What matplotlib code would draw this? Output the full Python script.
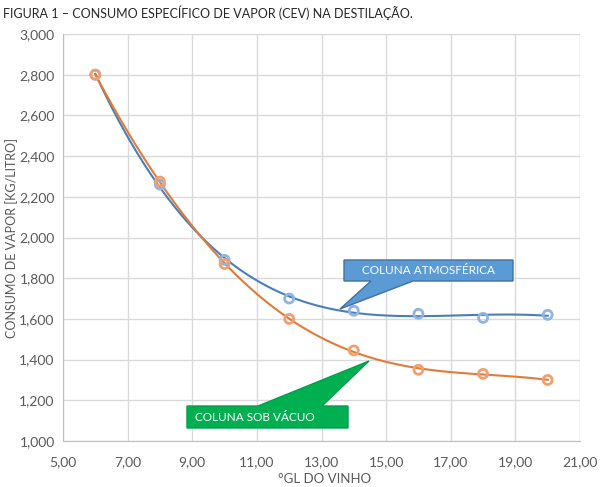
import numpy as np
import matplotlib
matplotlib.use('Agg')
import matplotlib.pyplot as plt
from matplotlib.patches import Polygon
from matplotlib.ticker import FuncFormatter, MultipleLocator

plt.rcParams['font.family'] = ['Lato', 'DejaVu Sans']

gl_vinho = [6, 8, 10, 12, 14, 16, 18, 20]
cev_atmos = [2800, 2260, 1890, 1700, 1640, 1625, 1605, 1620]
cev_vacuo = [2800, 2275, 1870, 1600, 1445, 1350, 1330, 1300]

W, H = 600, 487
fig = plt.figure(figsize=(6, 4.87), dpi=100)
ax = fig.add_axes([63 / W, 1 - 441 / H, (580 - 63) / W, (441 - 34) / H])

grey = '#595959'
blue_mk = '#8FB4E0'
orange_mk = '#F0A070'

# trendlines (polynomial fits like Excel)
xs = np.linspace(6, 20, 300)
p_a = np.polyfit(gl_vinho, cev_atmos, 4)
p_v = np.polyfit(gl_vinho, cev_vacuo, 4)
ax.plot(xs, np.polyval(p_a, xs), color='#4A7EBB', lw=1.5, zorder=3)
ax.plot(xs, np.polyval(p_v, xs), color='#E07B39', lw=1.5, zorder=3)

ax.scatter(gl_vinho, cev_atmos, s=42, facecolors='none', edgecolors=blue_mk, linewidths=2, zorder=4)
ax.scatter(gl_vinho, cev_vacuo, s=42, facecolors='none', edgecolors=orange_mk, linewidths=2, zorder=4)

ax.set_xlim(5, 21)
ax.set_ylim(1000, 3000)
ax.set_xticks(np.arange(5, 22, 2))
ax.yaxis.set_major_locator(MultipleLocator(200))
ax.xaxis.set_major_formatter(FuncFormatter(lambda v, p: f'{v:.2f}'.replace('.', ',')))
ax.yaxis.set_major_formatter(FuncFormatter(lambda v, p: f'{v:,.0f}'))
ax.grid(True, color='#D9D9D9', lw=1)
ax.set_axisbelow(True)
for s in ['top', 'right']:
    ax.spines[s].set_visible(False)
for s in ['left', 'bottom']:
    ax.spines[s].set_color('#BFBFBF')
ax.tick_params(length=0, colors=grey, labelsize=10)
ax.tick_params(axis='x', pad=11)
ax.tick_params(axis='y', pad=6)

ax.set_xlabel('°GL DO VINHO', fontsize=9.5, color=grey)
ax.xaxis.set_label_coords((325 - 63) / (580 - 63), -(473 - 441) / (441 - 34))
ax.set_ylabel('CONSUMO DE VAPOR [KG/LITRO]', fontsize=9, color=grey)
ax.yaxis.set_label_coords(-(63 - 18) / (580 - 63), 0.5)

fig.text(3 / W, 1 - 13 / H, 'FIGURA 1 – CONSUMO ESPECÍFICO DE VAPOR (CEV) NA DESTILAÇÃO.',
         fontsize=9, color='#262626', va='center', ha='left')


def px(pts):
    return [(x / W, 1 - y / H) for x, y in pts]


# callout atmosferica
callout_a = px([(344, 260), (513, 260), (513, 281), (413, 281), (340, 309), (371, 281), (344, 281)])
fig.patches.append(Polygon(callout_a, closed=True, transform=fig.transFigure,
                           facecolor='#5B9BD5', edgecolor='#41719C', lw=1, zorder=5))
fig.text(428 / W, 1 - 270.5 / H, 'COLUNA ATMOSFÉRICA', color='white', fontsize=8.5,
         ha='center', va='center', zorder=6)

# callout vacuo
callout_v = px([(187, 406), (258, 406), (369, 361), (322, 406), (348, 406), (348, 428), (187, 428)])
fig.patches.append(Polygon(callout_v, closed=True, transform=fig.transFigure,
                           facecolor='#00B050', edgecolor='#00A04A', lw=1, zorder=5))
fig.text(255 / W, 1 - 417.5 / H, 'COLUNA SOB VÁCUO', color='white', fontsize=8.5,
         ha='center', va='center', zorder=6)

fig.savefig('out.png', dpi=100)
